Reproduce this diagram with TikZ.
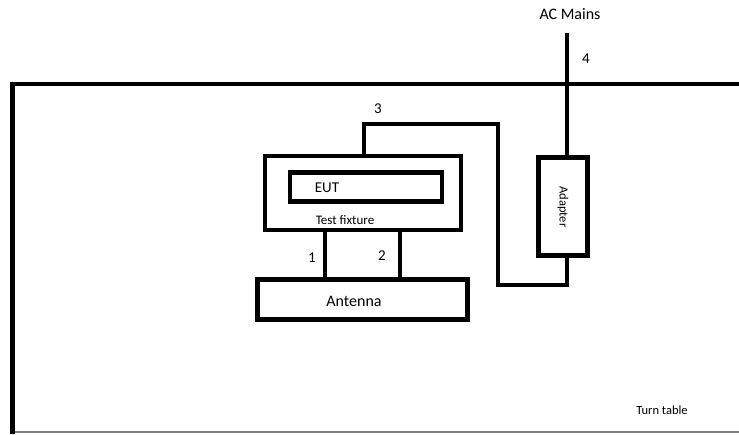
\documentclass[tikz,border=0pt]{standalone}
\usepackage{fontspec}
\setmainfont{Carlito}
\begin{document}
\begin{tikzpicture}[x=1pt,y=-1pt,
  box/.style={draw,line width=4.5pt,rectangle,inner sep=0pt},
  wire/.style={line width=4.5pt},
  txt/.style={inner sep=0pt,font=\fontsize{#1}{#1}\selectfont},
  txt/.default=15]
\useasboundingbox (0,0) rectangle (739,434);
% turn table
\draw[gray,line width=2pt] (12,432) -- (739,432);
\draw[wire] (739,84) -| (12.5,434);
\node[txt=12.5] (tt) at (662,410) {Turn table};
% boxes
\node[box,minimum width=196pt,minimum height=74pt] (fix) at (363,193) {};
\node[box,minimum width=152pt,minimum height=29pt] (eut) at (366,187) {};
\node[box,minimum width=210pt,minimum height=40pt] (ant) at (362.5,299.5) {};
\node[box,minimum width=49pt,minimum height=98pt] (ad) at (563,206.5) {};
% texts
\node[txt=15] (eutl) at (327,188) {EUT};
\node[txt=13] (fixl) at (345,220) {Test fixture};
\node[txt=16] (antl) at (354,301) {Antenna};
\node[txt=12.5,rotate=-90] (adl) at (563,207) {Adapter};
\node[txt=16] (ac) at (570,14) {AC Mains};
\node[txt=15] (n1) at (312,258) {1};
\node[txt=15] (n2) at (382,256) {2};
\node[txt=15] (n3) at (378,109) {3};
\node[txt=15] (n4) at (586,59) {4};
% coordinates
\coordinate (c1) at (325,0);
\coordinate (c2) at (400,0);
\coordinate (c3) at (364,0);
\coordinate (c4) at (567,0);
\coordinate (acend) at (567,33);
\coordinate (b3) at (498,285);
\coordinate (t3) at (364,124);
% connectors
\draw[wire] (fix.south -| c1) -- (ant.north -| c1);
\draw[wire] (fix.south -| c2) -- (ant.north -| c2);
\draw[wire] (acend) -- (ad.north -| c4);
\draw[wire] (ad.south -| c4) |- (b3) |- (t3) -- (fix.north -| c3);
\end{tikzpicture}
\end{document}
